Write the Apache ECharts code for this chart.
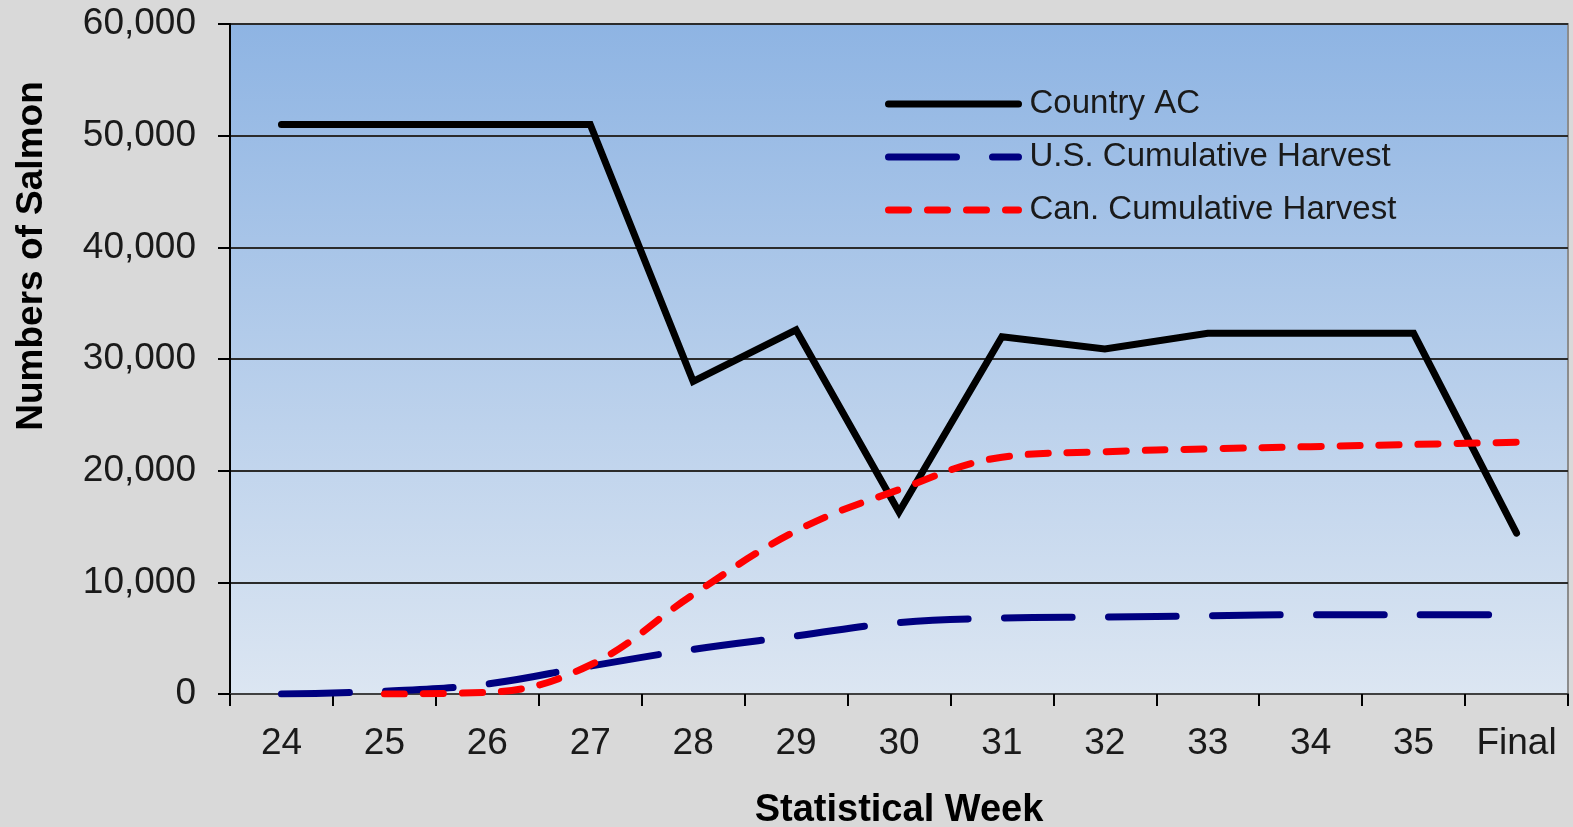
<!DOCTYPE html>
<html>
<head>
<meta charset="utf-8">
<title>Statistical Week</title>
<script src="https://cdn.jsdelivr.net/npm/echarts@6/dist/echarts.min.js"></script>
<style>
  html, body { margin: 0; padding: 0; background: #d9d9d9; }
  #chart { width: 1573px; height: 827px; }
</style>
</head>
<body>
<div id="chart"></div>
<script>
const weeks = ["24", "25", "26", "27", "28", "29", "30", "31", "32", "33", "34", "35", "Final"];
const countryAC = [51000, 51000, 51000, 51000, 28000, 32600, 16300, 32000, 30900, 32300, 32300, 32300, 14400];
const usCumulative = [0, 250, 900, 2500, 4000, 5200, 6400, 6800, 6900, 7000, 7100, 7100, 7100];
const canCumulative = [null, 0, 150, 2600, 8900, 14600, 18300, 21200, 21700, 21950, 22150, 22350, 22550];
const yTicks = { min: 0, max: 60000, interval: 10000 };

const font = "'Liberation Sans', Arial, sans-serif";
const chart = echarts.init(document.getElementById("chart"), null, { renderer: "canvas" });

const option = {
  backgroundColor: "#d9d9d9",
  animation: false,
  grid: {
    left: 230,
    right: 5,
    top: 24,
    bottom: 133,
    containLabel: false,
    outerBoundsMode: "none",
    show: true,
    borderColor: "#8c8c8c",
    borderWidth: 2,
    backgroundColor: {
      type: "linear",
      x: 0, y: 0, x2: 0, y2: 1,
      colorStops: [
        { offset: 0, color: "#8eb4e3" },
        { offset: 1, color: "#dce6f2" }
      ]
    }
  },
  legend: {
    orient: "vertical",
    left: 885,
    top: 86,
    padding: 0,
    itemWidth: 130,
    itemHeight: 14,
    itemGap: 17,
    lineStyle: { width: 7, cap: "round" },
    itemStyle: { color: "rgba(0,0,0,0)", borderWidth: 0 },
    textStyle: { fontFamily: font, fontSize: 33, color: "#1a1a1a", lineHeight: 36, padding: [0, 0, 0, 6] },
    data: ["Country AC", "U.S. Cumulative Harvest", "Can. Cumulative Harvest"]
  },
  xAxis: {
    type: "category",
    data: weeks,
    boundaryGap: true,
    name: "Statistical Week",
    nameLocation: "middle",
    nameGap: 98,
    nameTextStyle: { fontFamily: font, fontSize: 38, fontWeight: "bold", color: "#000" },
    axisLine: { lineStyle: { color: "#404040", width: 2 } },
    axisTick: { show: true, interval: 0, length: 12, lineStyle: { color: "#000", width: 2 } },
    axisLabel: { interval: 0, fontFamily: font, fontSize: 37, color: "#1a1a1a", margin: 31 }
  },
  yAxis: {
    type: "value",
    min: yTicks.min,
    max: yTicks.max,
    interval: yTicks.interval,
    name: "Numbers of Salmon",
    nameLocation: "middle",
    nameGap: 180,
    nameTextStyle: { fontFamily: font, fontSize: 37, fontWeight: "bold", color: "#000", padding: [0, 0, 0, 206] },
    axisLine: { show: true, lineStyle: { color: "#000", width: 2 } },
    axisTick: { show: true, length: 12, lineStyle: { color: "#000", width: 2 } },
    splitLine: { lineStyle: { color: "#2b2b2b", width: 2 } },
    axisLabel: {
      fontFamily: font,
      fontSize: 37,
      color: "#1a1a1a",
      margin: 34,
      formatter: (v) => v.toLocaleString("en-US")
    }
  },
  series: [
    {
      name: "Country AC",
      type: "line",
      data: countryAC,
      symbol: "none",
      lineStyle: { color: "#000", width: 7, cap: "round", join: "miter" },
      itemStyle: { color: "#000" }
    },
    {
      name: "U.S. Cumulative Harvest",
      type: "line",
      data: usCumulative,
      symbol: "none",
      smooth: 0.4,
      lineStyle: { color: "#000080", width: 7, type: [68, 36], cap: "round" },
      itemStyle: { color: "#000080" }
    },
    {
      name: "Can. Cumulative Harvest",
      type: "line",
      data: canCumulative,
      symbol: "none",
      smooth: 0.4,
      lineStyle: { color: "#ff0000", width: 7, type: [20, 19], cap: "round" },
      itemStyle: { color: "#ff0000" }
    }
  ]
};

chart.setOption(option);
</script>
</body>
</html>
